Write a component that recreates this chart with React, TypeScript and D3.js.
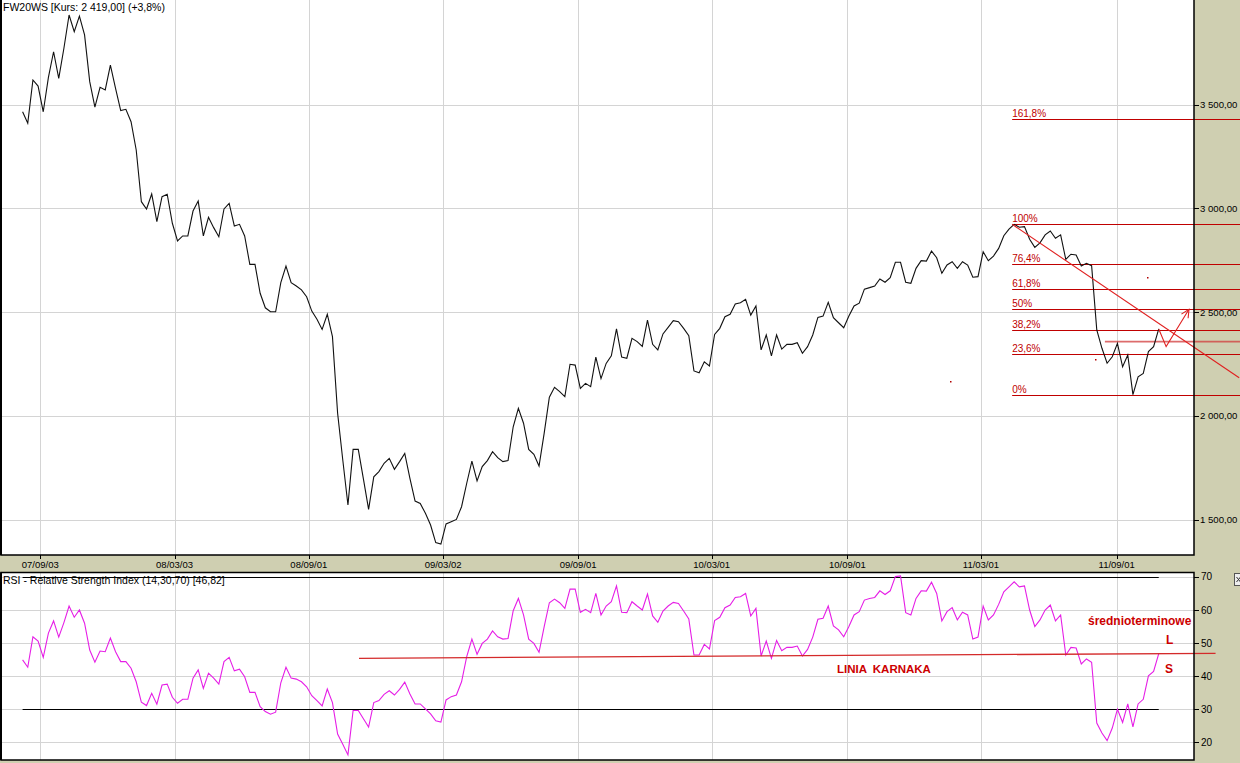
import React from 'react';
import * as d3 from 'd3';

// ---------- DATA ----------
const startDate = '2007-08-10'; // first weekly close
const priceValues: number[] = [
  3465, 3410, 3618, 3589, 3465, 3631, 3754, 3626, 3771, 3931,
  3851, 3926, 3835, 3610, 3487, 3583, 3570, 3690, 3578, 3471,
  3477, 3417, 3281, 3032, 2997, 3069, 2936, 3056, 3068, 2928,
  2843, 2867, 2867, 2987, 3035, 2867, 2957, 2907, 2863, 2997,
  3024, 2915, 2923, 2867, 2730, 2730, 2591, 2521, 2502, 2502,
  2642, 2722, 2642, 2626, 2607, 2574, 2505, 2466, 2417, 2490,
  2382, 2013, 1788, 1571, 1839, 1839, 1696, 1550, 1707, 1732,
  1772, 1796, 1743, 1780, 1820, 1700, 1590, 1579, 1531, 1475,
  1390, 1383, 1480, 1491, 1502, 1563, 1676, 1783, 1687, 1756,
  1785, 1828, 1799, 1780, 1785, 1948, 2037, 1965, 1839, 1815,
  1759, 1917, 2090, 2138, 2117, 2093, 2249, 2245, 2133, 2157,
  2141, 2283, 2180, 2253, 2290, 2419, 2284, 2278, 2374, 2358,
  2335, 2462, 2345, 2318, 2395, 2427, 2459, 2454, 2422, 2387,
  2217, 2208, 2261, 2241, 2393, 2422, 2478, 2490, 2539, 2545,
  2562, 2486, 2530, 2318, 2390, 2289, 2390, 2322, 2345, 2345,
  2353, 2302, 2334, 2390, 2475, 2481, 2547, 2473, 2449, 2425,
  2481, 2530, 2543, 2611, 2618, 2626, 2660, 2644, 2666, 2740,
  2740, 2644, 2639, 2711, 2748, 2746, 2794, 2762, 2687, 2727,
  2743, 2711, 2743, 2727, 2668, 2671, 2791, 2748, 2770, 2807,
  2868, 2900, 2923, 2909, 2912, 2851, 2812, 2834, 2872, 2891,
  2856, 2872, 2754, 2779, 2775, 2722, 2735, 2724, 2414, 2326,
  2254, 2285, 2350, 2237, 2294, 2103, 2189, 2205, 2310, 2334,
  2419,
];
const rsiValues: number[] = [
  44.9, 42.7, 51.9, 50.6, 45.7, 53.0, 56.7, 51.8, 56.2, 61.2,
  57.8, 60.0, 56.0, 47.9, 44.2, 47.6, 47.4, 51.5, 47.4, 44.4,
  44.4, 42.4, 38.3, 32.1, 31.1, 34.8, 31.5, 37.3, 37.6, 33.6,
  31.8, 33.0, 33.0, 39.4, 41.9, 36.3, 40.9, 39.4, 37.6, 44.4,
  45.7, 41.6, 42.1, 39.8, 35.1, 35.1, 30.8, 29.3, 28.5, 29.1,
  38.0, 42.7, 39.4, 39.1, 38.3, 36.8, 34.1, 32.6, 31.0, 36.1,
  32.0, 22.5, 19.4, 16.2, 29.6, 29.6, 27.1, 24.6, 32.0, 32.6,
  34.5, 35.6, 34.3, 36.0, 38.2, 34.6, 31.6, 31.6, 30.1, 28.6,
  26.5, 26.1, 32.8, 33.8, 34.3, 38.3, 45.9, 51.2, 46.6, 49.9,
  51.2, 53.7, 51.9, 51.2, 51.4, 59.8, 63.5, 58.5, 51.2, 49.9,
  47.2, 55.0, 62.2, 63.3, 62.2, 60.5, 66.3, 66.3, 59.3, 60.2,
  59.2, 65.0, 58.5, 61.2, 62.5, 67.3, 59.3, 59.2, 62.5, 61.2,
  60.0, 64.8, 58.2, 56.3, 59.7, 61.2, 62.3, 62.0, 59.7, 57.3,
  46.4, 46.4, 49.6, 48.2, 56.8, 57.8, 60.7, 61.5, 63.8, 64.0,
  65.0, 58.2, 60.5, 46.1, 50.6, 45.4, 50.8, 47.7, 48.7, 48.7,
  49.1, 46.1, 48.1, 51.8, 57.2, 57.5, 61.2, 55.2, 54.0, 51.9,
  55.0, 58.5, 59.5, 63.0, 63.5, 63.8, 65.8, 64.7, 65.8, 70.1,
  70.3, 59.2, 58.5, 63.5, 65.8, 65.7, 68.4, 65.0, 56.7, 59.5,
  60.7, 57.0, 59.3, 58.5, 51.2, 51.8, 61.2, 57.0, 58.5, 61.7,
  65.5, 67.0, 68.5, 67.0, 67.3, 60.0, 55.0, 57.0, 60.0, 61.5,
  56.7, 58.5, 46.4, 48.7, 48.5, 43.7, 45.2, 44.2, 25.8, 22.8,
  20.5, 24.3, 30.0, 26.0, 31.6, 24.7, 31.6, 33.0, 40.1, 41.4,
  46.8,
];
const tickDates = ['2007-09-03', '2008-03-03', '2008-09-01', '2009-03-02', '2009-09-01', '2010-03-01', '2010-09-01', '2011-03-01', '2011-09-01'];
const tickLabels = ['07/09/03', '08/03/03', '08/09/01', '09/03/02', '09/09/01', '10/03/01', '10/09/01', '11/03/01', '11/09/01'];
const priceTicks = [1500, 2000, 2500, 3000, 3500];
const priceTickLabels = ['1 500,00', '2 000,00', '2 500,00', '3 000,00', '3 500,00'];
const rsiTicks = [20, 30, 40, 50, 60, 70];
const rsiLevels = [30, 70];
const fibRatios = [0, 0.236, 0.382, 0.5, 0.618, 0.764, 1, 1.618];
const fibLabels = ['0%', '23,6%', '38,2%', '50%', '61,8%', '76,4%', '100%', '161,8%'];
const fibSwingFrom = '2011-01-01';
const fibLow = 2103;
const fibHigh = 2923;
const trendEnd: [string, number] = ['2012-02-14', 2184];
const arrowPath: [string, number][] = [['2011-11-07', 2334], ['2011-12-08', 2514]];
const supportLine: [string, number] = ['2011-08-16', 2358];
const strayDots: [string, number][] = [['2011-10-12', 2668], ['2011-08-03', 2274], ['2011-01-18', 2167]];
const karnakLine: [string, number][] = [['2008-11-08', 45.4], ['2012-01-13', 46.9]];
const titleText = 'FW20WS [Kurs: 2 419,00] (+3,8%)';
const rsiTitle = 'RSI - Relative Strength Index (14,30,70) [46,82]';

// ---------- CHART ----------
const FONT = '"Liberation Sans", Arial, sans-serif';
const TAN = '#cfcfb1';
const GRID = '#d4d4d4';
const FIB = '#c00000';

export default function App() {
  const W = 1240, H = 763;
  const main = { left: 1, right: 1194, top: 0, bottom: 555 };
  const rsiP = { left: 1, right: 1194, top: 572.5, bottom: 760 };

  const parse = d3.utcParse('%Y-%m-%d');
  const start = parse(startDate) as Date;
  const dates = priceValues.map((_, i) => d3.utcDay.offset(start, 7 * i));
  const tDates = tickDates.map((s) => parse(s) as Date);

  const x = d3.scaleUtc().domain([tDates[0], tDates[tDates.length - 1]]).range([40.3, 1116.7]);
  const yP = d3.scaleLinear().domain([1500, 3500]).range([519.8, 104.5]);
  const yR = d3.scaleLinear().domain([20, 60]).range([742.3, 610]);

  const priceLine = d3.line<number>().x((_, i) => x(dates[i])).y((v) => yP(v))(priceValues) || '';
  const rsiLine = d3.line<number>().x((_, i) => x(dates[i])).y((v) => yR(v))(rsiValues) || '';

  const swingStart = parse(fibSwingFrom) as Date;
  const firstSwing = dates.findIndex((d) => d >= swingStart);
  const peakIdx = firstSwing + (d3.maxIndex(priceValues.slice(firstSwing)) as number);
  const peakX = x(dates[peakIdx]);
  const fibX0 = peakX - 2;

  const lastX = x(dates[dates.length - 1]);
  const lastY = yP(priceValues[priceValues.length - 1]);
  const arrowPts: [number, number][] = [[lastX, lastY], ...arrowPath.map(([d, v]) => [x(parse(d) as Date), yP(v)] as [number, number])];
  const [mx, my] = arrowPts[1];
  const [tx, ty] = arrowPts[2];
  const ang = Math.atan2(ty - my, tx - mx);
  const barb = (a: number) => [tx - 9 * Math.cos(ang + a), ty - 9 * Math.sin(ang + a)];
  const b1 = barb(0.45), b2 = barb(-0.45);

  const firstX = x(dates[0]);

  return (
    <svg width={W} height={H} style={{ position: 'absolute', left: 0, top: 0, fontFamily: FONT }}>
      <rect x={0} y={0} width={W} height={H} fill={TAN} />
      {/* panels */}
      <rect x={main.left} y={main.top} width={main.right - main.left} height={main.bottom - main.top} fill="#fff" />
      <rect x={rsiP.left} y={rsiP.top} width={rsiP.right - rsiP.left} height={rsiP.bottom - rsiP.top} fill="#fff" />

      {/* grid main */}
      {priceTicks.map((t) => (
        <line key={'pg' + t} x1={main.left} x2={main.right} y1={Math.round(yP(t)) + 0.5} y2={Math.round(yP(t)) + 0.5} stroke={GRID} />
      ))}
      {tDates.map((d, i) => (
        <line key={'vg' + i} x1={Math.round(x(d)) + 0.5} x2={Math.round(x(d)) + 0.5} y1={main.top} y2={main.bottom} stroke={GRID} />
      ))}
      {/* grid rsi */}
      {rsiTicks.map((t) => (
        <line key={'rg' + t} x1={rsiP.left} x2={rsiP.right} y1={Math.round(yR(t)) + 0.5} y2={Math.round(yR(t)) + 0.5} stroke={GRID} />
      ))}
      {tDates.map((d, i) => (
        <line key={'rvg' + i} x1={Math.round(x(d)) + 0.5} x2={Math.round(x(d)) + 0.5} y1={rsiP.top} y2={rsiP.bottom} stroke={GRID} />
      ))}

      {/* fib lines */}
      {fibRatios.map((r, i) => {
        const v = fibLow + r * (fibHigh - fibLow);
        const yy = Math.round(yP(v)) + 0.5;
        return (
          <g key={'fib' + i}>
            <line x1={fibX0} x2={W} y1={yy} y2={yy} stroke={FIB} strokeWidth={1} />
            <text x={fibX0} y={yy - 2.5} fontSize={10} fill={FIB}>{fibLabels[i]}</text>
          </g>
        );
      })}
      {/* support line */}
      <line x1={x(parse(supportLine[0]) as Date)} x2={W} y1={yP(supportLine[1])} y2={yP(supportLine[1])} stroke="#d23c3c" strokeWidth={1.6} opacity={0.75} />

      {/* price line */}
      <path d={priceLine} fill="none" stroke="#111" strokeWidth={1.1} />

      {/* trend line */}
      <line x1={fibX0} y1={yP(fibHigh)} x2={x(parse(trendEnd[0]) as Date)} y2={yP(trendEnd[1])} stroke="#e02020" strokeWidth={1.1} />
      {/* arrow */}
      <polyline points={arrowPts.map((p) => p.join(',')).join(' ')} fill="none" stroke="#e02020" strokeWidth={1.1} />
      <polyline points={`${b1[0]},${b1[1]} ${tx},${ty} ${b2[0]},${b2[1]}`} fill="none" stroke="#e02020" strokeWidth={1.1} />
      {strayDots.map(([d, v], i) => (
        <rect key={'dot' + i} x={Math.round(x(parse(d) as Date))} y={Math.round(yP(v))} width={1.5} height={1.5} fill="#b00000" />
      ))}

      {/* main frame */}
      <rect x={main.left} y={main.top - 1} width={main.right - main.left} height={main.bottom - main.top + 1} fill="none" stroke="#000" strokeWidth={1.5} />
      <line x1={1} x2={1} y1={0} y2={main.bottom} stroke="#000" strokeWidth={2} />

      {/* price axis */}
      {priceTicks.map((t, i) => (
        <g key={'pt' + t}>
          <line x1={main.right} x2={main.right + 5} y1={Math.round(yP(t)) + 0.5} y2={Math.round(yP(t)) + 0.5} stroke="#000" />
          <text x={main.right + 6} y={yP(t) + 3.5} fontSize={9.6} fill="#000">{priceTickLabels[i]}</text>
        </g>
      ))}
      {/* date axis */}
      {tDates.map((d, i) => (
        <g key={'dt' + i}>
          <line x1={Math.round(x(d)) + 0.5} x2={Math.round(x(d)) + 0.5} y1={main.bottom} y2={main.bottom + 4} stroke="#000" />
          <text x={x(d)} y={main.bottom + 12.5} fontSize={9.5} textAnchor="middle" fill="#000">{tickLabels[i]}</text>
        </g>
      ))}

      <text x={3} y={11} fontSize={10.5} fill="#000">{titleText}</text>

      {/* RSI panel */}
      <text x={3} y={584} fontSize={10.5} fill="#000">{rsiTitle}</text>
      {rsiLevels.map((lv) => (
        <line key={'lv' + lv} x1={firstX} x2={lastX} y1={Math.round(yR(lv)) + 0.5} y2={Math.round(yR(lv)) + 0.5} stroke="#000" strokeWidth={1} />
      ))}
      <path d={rsiLine} fill="none" stroke="#e61ee6" strokeWidth={1.1} />
      <line
        x1={x(parse(karnakLine[0][0]) as Date)} y1={yR(karnakLine[0][1])}
        x2={x(parse(karnakLine[1][0]) as Date)} y2={yR(karnakLine[1][1])}
        stroke="#d42a2a" strokeWidth={1.3}
      />
      <rect x={rsiP.left} y={rsiP.top} width={rsiP.right - rsiP.left} height={rsiP.bottom - rsiP.top} fill="none" stroke="#000" strokeWidth={1.5} />
      <line x1={1} x2={1} y1={rsiP.top} y2={rsiP.bottom} stroke="#000" strokeWidth={2} />
      {rsiTicks.map((t) => (
        <g key={'rt' + t}>
          <line x1={rsiP.right} x2={rsiP.right + 5} y1={Math.round(yR(t)) + 0.5} y2={Math.round(yR(t)) + 0.5} stroke="#000" />
          <text x={rsiP.right + 7} y={yR(t) + 3.5} fontSize={10} fill="#000">{t}</text>
        </g>
      ))}
      <text x={1088} y={625} fontSize={12} fontWeight="bold" fill="#cc0000">średnioterminowe</text>
      <text x={1166} y={644} fontSize={12} fontWeight="bold" fill="#cc0000">L</text>
      <text x={1165} y={673} fontSize={12} fontWeight="bold" fill="#cc0000">S</text>
      <text x={837} y={672.5} fontSize={11.5} fontWeight="bold" fill="#cc0000" wordSpacing={3}>LINIA KARNAKA</text>

      {/* small button */}
      <rect x={1234.5} y={573.5} width={8} height={12} fill="#eeeeee" stroke="#555" />
      <path d="M1236.5,577 l4,5 M1240.5,577 l-4,5" stroke="#333" />
    </svg>
  );
}
